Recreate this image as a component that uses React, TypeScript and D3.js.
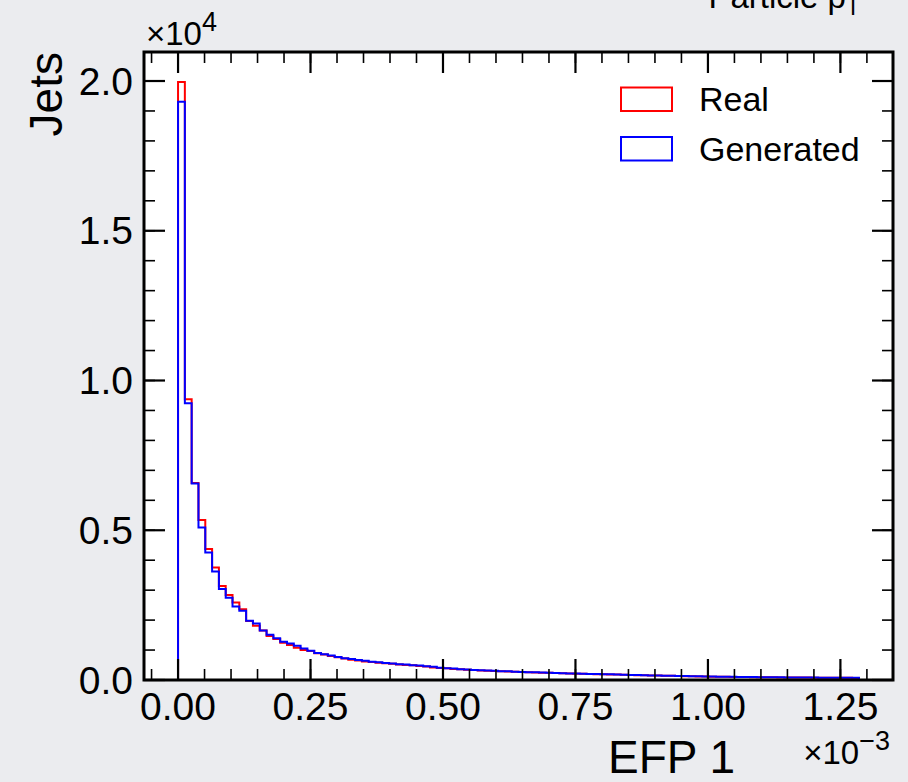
import React from "react";
import * as d3 from "d3";

// ---- data ----
const binMin = 0;
const binMax = 1.285; // EFP 1, units of 1e-3
const nBins = 100;

const realCounts = [
  19970, 9370, 6580, 5340, 4370, 3760, 3140, 2840, 2590, 2360,
  1970, 1810, 1650, 1470, 1370, 1240, 1170, 1080, 1000, 970,
  890, 850, 800, 760, 720, 680, 650, 620, 600, 580,
  560, 540, 520, 500, 490, 470, 450, 420, 400, 390,
  370, 355, 345, 335, 320, 310, 300, 290, 285, 275,
  265, 260, 250, 245, 238, 230, 222, 218, 210, 205,
  200, 195, 190, 186, 180, 172, 168, 162, 158, 150,
  148, 142, 138, 132, 128, 122, 120, 118, 112, 110,
  108, 104, 100, 98, 96, 94, 90, 88, 86, 85,
  84, 82, 80, 79, 78, 77, 75, 73, 72, 70,
];

const genCounts = [
  19310, 9240, 6560, 5090, 4260, 3620, 3040, 2750, 2450, 2310,
  1980, 1890, 1650, 1510, 1390, 1280, 1220, 1140, 1050, 980,
  900, 860, 820, 770, 730, 700, 670, 640, 610, 590,
  570, 555, 530, 515, 495, 480, 460, 440, 410, 395,
  380, 360, 350, 338, 325, 315, 305, 295, 288, 278,
  270, 262, 255, 248, 240, 232, 225, 220, 213, 208,
  203, 198, 192, 188, 182, 176, 170, 165, 160, 153,
  150, 145, 140, 135, 130, 126, 122, 119, 115, 112,
  110, 106, 103, 100, 98, 95, 92, 90, 88, 86,
  85, 83, 82, 80, 79, 78, 76, 75, 73, 72,
];

const xMajorTicks = [0, 0.25, 0.5, 0.75, 1.0, 1.25];
const xTickLabels = ["0.00", "0.25", "0.50", "0.75", "1.00", "1.25"];
const yMajorTicks = [0, 5000, 10000, 15000, 20000];
const yTickLabels = ["0.0", "0.5", "1.0", "1.5", "2.0"];

const seriesNames = ["Real", "Generated"];
const seriesColors = ["#ff0000", "#0000ff"];

// ---- layout ----
const W = 908;
const H = 782;
const L = 144, R = 893, T = 52, B = 680;
const FONT = "'Liberation Sans', Arial, Helvetica, sans-serif";

export default function App() {
  const span = binMax - binMin;
  const x = d3.scaleLinear().domain([binMin - 0.05 * span, binMax + 0.05 * span]).range([L, R]);
  const yMax = (d3.max([...realCounts, ...genCounts]) as number) * 1.05;
  const y = d3.scaleLinear().domain([0, yMax]).range([B, T]);

  const edges = d3.range(nBins + 1).map((i) => binMin + (i * span) / nBins);

  const stepPath = (vals: number[]) => {
    const pts: [number, number][] = [[edges[0], 0]];
    vals.forEach((v, i) => pts.push([edges[i], v]));
    pts.push([edges[nBins], vals[nBins - 1]]);
    pts.push([edges[nBins], 0]);
    return d3
      .line<[number, number]>()
      .x((d) => x(d[0]))
      .y((d) => y(d[1]))
      .curve(d3.curveStepAfter)(pts) as string;
  };

  const xMinor = d3.range(-0.05, 1.3501, 0.05).filter((v) => x(v) >= L && x(v) <= R);
  const yMinor = d3.range(0, yMax, 1000);

  const MAJ = 21, MIN = 11;

  return (
    <svg width={W} height={H} style={{ position: "absolute", left: 0, top: 0 }} fontFamily={FONT}>
      <rect x={0} y={0} width={W} height={H} fill="#ebecef" />
      <rect x={L} y={T} width={R - L} height={B - T} fill="#ffffff" />

      <text x={860} y={8} fontSize={33} textAnchor="end" fill="#000">
        Particle p<tspan fontSize={23} dy={7}>T</tspan>
      </text>

      {/* histograms */}
      <path d={stepPath(realCounts)} fill="none" stroke={seriesColors[0]} strokeWidth={2} />
      <path d={stepPath(genCounts)} fill="none" stroke={seriesColors[1]} strokeWidth={2} />

      {/* minor ticks */}
      {xMinor.map((v, i) => (
        <g key={"xm" + i} stroke="#000" strokeWidth={1.6}>
          <line x1={x(v)} x2={x(v)} y1={B} y2={B - MIN} />
          <line x1={x(v)} x2={x(v)} y1={T} y2={T + MIN} />
        </g>
      ))}
      {yMinor.map((v, i) => (
        <g key={"ym" + i} stroke="#000" strokeWidth={1.6}>
          <line x1={L} x2={L + MIN} y1={y(v)} y2={y(v)} />
          <line x1={R} x2={R - MIN} y1={y(v)} y2={y(v)} />
        </g>
      ))}
      {/* major ticks */}
      {xMajorTicks.map((v, i) => (
        <g key={"xM" + i}>
          <line x1={x(v)} x2={x(v)} y1={B} y2={B - MAJ} stroke="#000" strokeWidth={2.2} />
          <line x1={x(v)} x2={x(v)} y1={T} y2={T + MAJ} stroke="#000" strokeWidth={2.2} />
          <text x={x(v)} y={720} fontSize={39} textAnchor="middle" fill="#000">
            {xTickLabels[i]}
          </text>
        </g>
      ))}
      {yMajorTicks.map((v, i) => (
        <g key={"yM" + i}>
          <line x1={L} x2={L + MAJ} y1={y(v)} y2={y(v)} stroke="#000" strokeWidth={2.2} />
          <line x1={R} x2={R - MAJ} y1={y(v)} y2={y(v)} stroke="#000" strokeWidth={2.2} />
          <text x={133} y={y(v) + 13.5} fontSize={39} textAnchor="end" fill="#000">
            {yTickLabels[i]}
          </text>
        </g>
      ))}

      {/* frame */}
      <rect x={L} y={T} width={R - L} height={B - T} fill="none" stroke="#000" strokeWidth={3} />

      {/* offset texts */}
      <text x={146} y={45} fontSize={33} fill="#000">
        ×10<tspan fontSize={27} dy={-14}>4</tspan>
      </text>
      <text x={890} y={764} fontSize={33} textAnchor="end" fill="#000">
        ×10<tspan fontSize={27} dy={-14}>−3</tspan>
      </text>

      {/* axis labels */}
      <text x={735} y={773} fontSize={46} textAnchor="end" fill="#000">
        EFP 1
      </text>
      <text transform={`translate(62, ${T}) rotate(-90)`} fontSize={46} textAnchor="end" fill="#000">
        Jets
      </text>

      {/* legend */}
      {seriesNames.map((name, i) => (
        <g key={name}>
          <rect x={621} y={87.5 + i * 49.5} width={51} height={23.5} fill="none" stroke={seriesColors[i]} strokeWidth={2} />
          <text x={699} y={111 + i * 49.5} fontSize={34} fill="#000">
            {name}
          </text>
        </g>
      ))}
    </svg>
  );
}
